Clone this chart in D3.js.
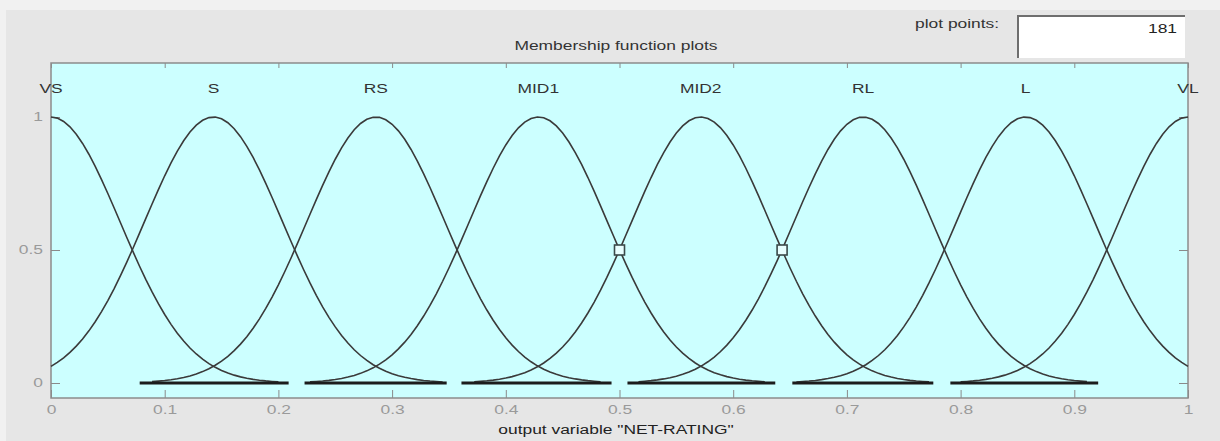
<!DOCTYPE html>
<html>
<head>
<meta charset="utf-8">
<script src="https://cdn.jsdelivr.net/npm/d3@7"></script>
<style>
  body { margin: 0; background: #e6e6e6; }
  svg { display: block; font-family: "Liberation Sans", Arial, sans-serif; }
</style>
</head>
<body>
<div class="myViz"></div>
<script>
// membership functions of output variable NET-RATING (gaussmf)
var mfNames   = ["VS", "S", "RS", "MID1", "MID2", "RL", "L", "VL"];
var mfCenters = [0, 0.1429, 0.2857, 0.4286, 0.5714, 0.7143, 0.8571, 1];
var mfSigmas  = [0.0607, 0.0607, 0.0607, 0.0607, 0.0607, 0.0607, 0.0607, 0.0607];
var plotPoints = 181;

// dark strokes lying on the zero line
var baseStart = [0.078, 0.223, 0.361, 0.507, 0.652, 0.791];
var baseEnd   = [0.209, 0.348, 0.493, 0.637, 0.776, 0.921];

// the two square handles
var handleX = [0.5, 0.643];
var handleY = [0.5, 0.5];

var xTicks = [0, 0.1, 0.2, 0.3, 0.4, 0.5, 0.6, 0.7, 0.8, 0.9, 1];
var yTicks = [0, 0.5, 1];

var W = 1220, H = 441;
var margin = {top: 63, right: 32, bottom: 43, left: 51},
    width = W - margin.left - margin.right,
    height = H - margin.top - margin.bottom;

// the screenshot is stretched sideways, so text is widened to match
var stretch = 1.45;
function widen(sel) {
  sel.each(function() {
    var w = this.getComputedTextLength();
    d3.select(this).attr("textLength", w * stretch).attr("lengthAdjust", "spacingAndGlyphs");
  });
}

var svg = d3.select(".myViz").append("svg")
  .attr("width", W)
  .attr("height", H);

// window background
svg.append("rect").attr("width", W).attr("height", H).attr("fill", "#e6e6e6");
svg.append("rect").attr("width", W).attr("height", 10).attr("fill", "#f1f1f1");
svg.append("rect").attr("width", 6).attr("height", H).attr("fill", "#f1f1f1");

// "plot points" box
svg.append("text")
  .attr("x", 915).attr("y", 28)
  .attr("font-size", 12).attr("fill", "#333")
  .text("plot points:")
  .call(widen);
svg.append("rect")
  .attr("x", 1017).attr("y", 15).attr("width", 168).attr("height", 43)
  .attr("fill", "#fff");
svg.append("path")
  .attr("d", "M1018,58V16H1185")
  .attr("fill", "none").attr("stroke", "#6e6e6e").attr("stroke-width", 2);
svg.append("text")
  .attr("x", 1177).attr("y", 33)
  .attr("text-anchor", "end")
  .attr("font-size", 12).attr("fill", "#222")
  .text(plotPoints)
  .call(widen);

// title
svg.append("text")
  .attr("x", 616).attr("y", 50)
  .attr("text-anchor", "middle")
  .attr("font-size", 12).attr("fill", "#333")
  .text("Membership function plots")
  .call(widen);

var x = d3.scaleLinear().domain([0, 1]).range([0, width]);
var y = d3.scaleLinear().domain([0, 1]).range([320, 54]);

var g = svg.append("g")
  .attr("transform", "translate(" + margin.left + "," + margin.top + ")");

g.append("rect")
  .attr("width", width).attr("height", height)
  .attr("fill", "#ccffff");

// axes, ticks pointing inwards like MATLAB
function styleAxis(sel, labels) {
  sel.select(".domain").remove();
  sel.selectAll(".tick line").attr("stroke", "#8a8a8a");
  sel.selectAll(".tick text")
    .attr("fill", labels ? "#9a9a9a" : "none")
    .attr("font-size", 12)
    .attr("font-family", "Liberation Sans, Arial, sans-serif");
  if (labels) sel.selectAll(".tick text").call(widen);
}

var fmt = function(d) { return d3.format("")(+d.toFixed(2)); };

g.append("g")
  .attr("transform", "translate(0," + height + ")")
  .call(d3.axisBottom(x).tickValues(xTicks).tickFormat(fmt).tickSizeInner(-8).tickPadding(7))
  .call(function(s) { styleAxis(s, true); });

g.append("g")
  .call(d3.axisTop(x).tickValues(xTicks).tickFormat("").tickSizeInner(-5))
  .call(function(s) { styleAxis(s, false); });

g.append("g")
  .call(d3.axisLeft(y).tickValues(yTicks).tickFormat(fmt).tickSizeInner(-9).tickPadding(8))
  .call(function(s) { styleAxis(s, true); });

g.append("g")
  .attr("transform", "translate(" + width + ",0)")
  .call(d3.axisRight(y).tickValues(yTicks).tickFormat("").tickSizeInner(-9))
  .call(function(s) { styleAxis(s, false); });

// plot frame
g.append("rect")
  .attr("width", width).attr("height", height)
  .attr("fill", "none").attr("stroke", "#8c8c8c").attr("stroke-width", 1.5);

// curves
var xs = d3.range(plotPoints).map(function(i) { return i / (plotPoints - 1); });
function gaussmf(v, c, s) { return Math.exp(-((v - c) * (v - c)) / (2 * s * s)); }

var line = d3.line()
  .defined(function(d) { return d[1] > 0.004; })
  .x(function(d) { return x(d[0]); })
  .y(function(d) { return y(d[1]); });

g.selectAll(".mf")
  .data(mfCenters)
  .enter()
  .append("path")
    .attr("class", "mf")
    .attr("d", function(c, i) {
      return line(xs.map(function(v) { return [v, gaussmf(v, c, mfSigmas[i])]; }));
    })
    .attr("fill", "none")
    .attr("stroke", "#3a3a3a")
    .attr("stroke-width", 1.6);

// dark strokes along zero
g.selectAll(".base")
  .data(baseStart)
  .enter()
  .append("line")
    .attr("class", "base")
    .attr("x1", function(d) { return x(d); })
    .attr("x2", function(d, i) { return x(baseEnd[i]); })
    .attr("y1", y(0)).attr("y2", y(0))
    .attr("stroke", "#1c1c1c")
    .attr("stroke-width", 3);

// handles
g.selectAll(".handle")
  .data(handleX)
  .enter()
  .append("rect")
    .attr("class", "handle")
    .attr("x", function(d) { return x(d) - 5; })
    .attr("y", function(d, i) { return y(handleY[i]) - 5; })
    .attr("width", 10).attr("height", 10)
    .attr("fill", "#e8ffff")
    .attr("stroke", "#3a4a4a")
    .attr("stroke-width", 1.6);

// MF labels
g.selectAll(".mflabel")
  .data(mfNames)
  .enter()
  .append("text")
    .attr("class", "mflabel")
    .attr("x", function(d, i) { return x(mfCenters[i]); })
    .attr("y", 30)
    .attr("text-anchor", "middle")
    .attr("font-size", 12)
    .attr("fill", "#333")
    .text(function(d) { return d; })
    .call(widen);

// x label
svg.append("text")
  .attr("x", 616).attr("y", 434)
  .attr("text-anchor", "middle")
  .attr("font-size", 12).attr("fill", "#222")
  .text('output variable "NET-RATING"')
  .call(widen);
</script>
</body>
</html>
